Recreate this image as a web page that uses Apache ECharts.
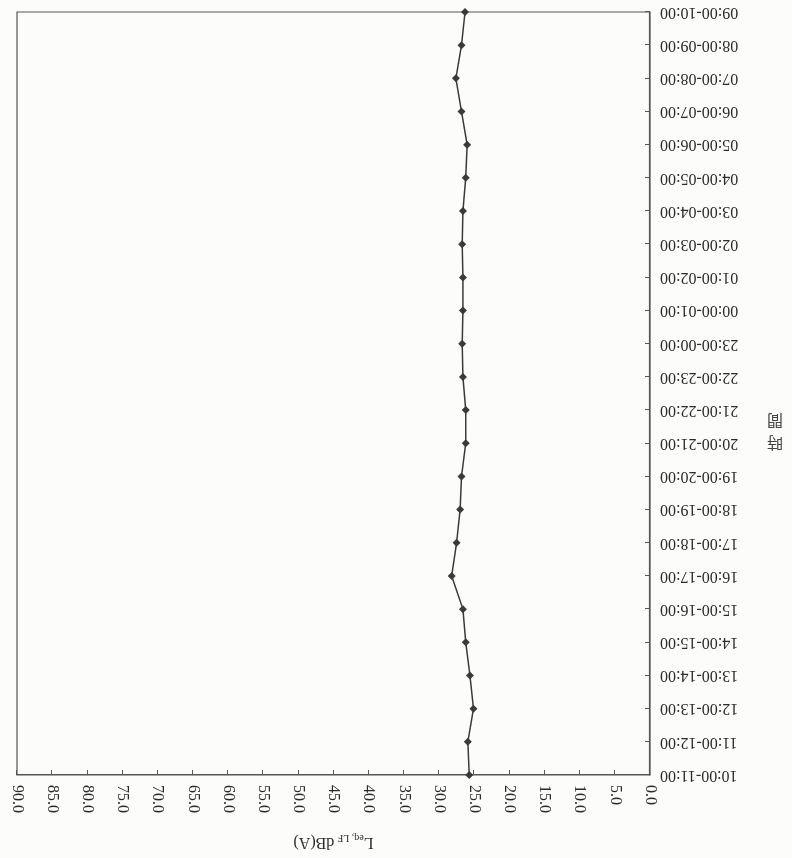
<!DOCTYPE html>
<html>
<head>
<meta charset="utf-8">
<script src="https://cdn.jsdelivr.net/npm/echarts@6/dist/echarts.min.js"></script>
<style>
  html, body { margin: 0; padding: 0; background: #fcfcfb; }
  #chart { width: 792px; height: 858px; transform: rotate(180deg); }
</style>
</head>
<body>
<div id="chart"></div>
<script>
// Hourly time bands, 10:00 through to 10:00 the next morning
const hours = [
  '10:00-11:00', '11:00-12:00', '12:00-13:00', '13:00-14:00', '14:00-15:00',
  '15:00-16:00', '16:00-17:00', '17:00-18:00', '18:00-19:00', '19:00-20:00',
  '20:00-21:00', '21:00-22:00', '22:00-23:00', '23:00-00:00', '00:00-01:00',
  '01:00-02:00', '02:00-03:00', '03:00-04:00', '04:00-05:00', '05:00-06:00',
  '06:00-07:00', '07:00-08:00', '08:00-09:00', '09:00-10:00'
];

// Hourly equivalent low-frequency level, dB(A)
const leqLF = [
  25.7, 25.9, 25.1, 25.6, 26.2,
  26.6, 28.2, 27.5, 27.0, 26.8,
  26.2, 26.2, 26.6, 26.7, 26.6,
  26.6, 26.7, 26.6, 26.2, 26.0,
  26.8, 27.6, 26.8, 26.3
];

// Level axis range and step
const levelMin = 0;
const levelMax = 90;
const levelStep = 5;

const serif = '"Liberation Serif", "Times New Roman", serif';
const ink = '#2a2a2a';
const frame = '#555555';

const chart = echarts.init(document.getElementById('chart'));

chart.setOption({
  backgroundColor: '#fcfcfb',
  animation: false,
  grid: {
    left: 142, right: 17, top: 83, bottom: 12,
    show: true, borderColor: frame, borderWidth: 1.2,
    backgroundColor: 'transparent'
  },
  xAxis: {
    type: 'value',
    position: 'top',
    min: levelMin,
    max: levelMax,
    interval: levelStep,
    name: '{l|L}{s|eq, LF} {n|dB(A)}',
    nameLocation: 'middle',
    nameGap: 58,
    nameTextStyle: {
      rich: {
        l: { fontFamily: serif, fontSize: 16, color: ink, lineHeight: 18 },
        s: { fontFamily: serif, fontSize: 10, color: ink, lineHeight: 18, verticalAlign: 'bottom', padding: [8, 0, 0, 0] },
        n: { fontFamily: serif, fontSize: 16, color: ink, lineHeight: 18 }
      }
    },
    axisLine: { show: true, lineStyle: { color: frame, width: 1.2 } },
    axisTick: { show: true, inside: true, length: 5, lineStyle: { color: frame } },
    splitLine: { show: false },
    axisLabel: {
      rotate: -90,
      margin: 10,
      fontFamily: serif,
      fontSize: 16,
      color: ink,
      formatter: v => v.toFixed(1)
    }
  },
  yAxis: {
    type: 'category',
    data: hours,
    inverse: true,
    boundaryGap: false,
    position: 'left',
    axisLine: { show: true, lineStyle: { color: frame, width: 1.2 } },
    axisTick: { show: true, inside: true, length: 5, alignWithLabel: true, lineStyle: { color: frame } },
    splitLine: { show: false },
    axisLabel: {
      interval: 0,
      margin: 10,
      fontFamily: serif,
      fontSize: 16,
      color: ink
    }
  },
  graphic: [{
    type: 'text',
    left: 9,
    top: 404,
    style: {
      text: '時\n間',
      fontFamily: '"Noto Sans CJK TC", "Noto Sans CJK JP", sans-serif',
      fontSize: 16,
      lineHeight: 22,
      fill: '#444'
    }
  }],
  series: [{
    type: 'line',
    data: leqLF,
    symbol: 'diamond',
    symbolSize: 8,
    lineStyle: { color: '#3a3a3a', width: 1.5 },
    itemStyle: { color: '#3a3a3a' }
  }]
});
</script>
</body>
</html>
